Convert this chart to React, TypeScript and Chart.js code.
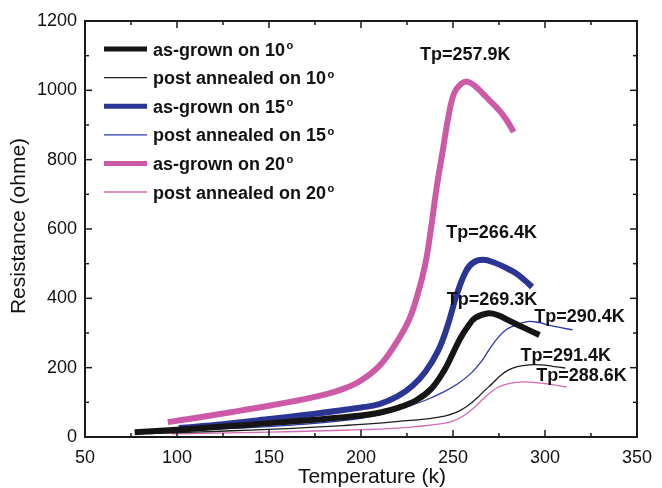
import React, { useEffect, useRef } from "react";
import { Chart, registerables } from "chart.js";

Chart.register(...registerables);

const FONT = '"Liberation Sans", Arial, Helvetica, sans-serif';

// ---- data (Temperature K, Resistance ohm) ----
const T_AG10 = [77, 100, 125, 150, 175, 200, 210, 220, 230, 238, 245, 250, 254, 258, 262, 269.3, 275, 280, 289, 297];
const R_AG10 = [14, 21, 30, 40, 50, 62, 70, 84, 106, 138, 190, 242, 285, 318, 343, 357, 350, 337, 314, 294];

const T_PA10 = [85, 110, 130, 150, 170, 190, 210, 225, 237, 246, 253, 258, 263, 267, 271.5, 276, 280, 285, 291.4, 298, 304, 311];
const R_PA10 = [10, 14, 18, 22, 27, 33, 40, 47, 53, 61, 74, 90, 112, 133, 155, 178, 193, 203, 208, 208, 204, 199];

const T_AG15 = [101, 125, 150, 175, 200, 210, 220, 228, 235, 242, 247, 252, 257, 261, 266.4, 273, 278, 284, 289, 293];
const R_AG15 = [26, 37, 52, 67, 85, 95, 118, 148, 188, 250, 320, 410, 478, 503, 511, 502, 490, 473, 452, 433];

const T_PA15 = [90, 110, 130, 150, 170, 190, 208, 222, 235, 245, 253, 260, 266, 270, 274.7, 279, 284, 290.4, 296, 302, 308, 315];
const R_PA15 = [15, 20, 25, 30, 37, 47, 62, 82, 106, 130, 155, 185, 222, 255, 288, 310, 323, 333, 331, 323, 316, 309];

const T_AG20 = [95, 110, 130, 150, 170, 180, 190, 200, 210, 218, 226, 231, 235, 238, 241, 244.5, 247.5, 250.5, 254, 257.9, 262, 266, 270, 275, 279, 283];
const R_AG20 = [43, 55, 72, 90, 110, 122, 138, 163, 205, 262, 337, 415, 500, 600, 715, 828, 923, 990, 1017, 1025, 1012, 992, 970, 943, 915, 880];

const T_PA20 = [97, 120, 150, 180, 200, 215, 230, 242, 250, 256, 262, 266, 270, 275, 281, 288.6, 295, 303, 312];
const R_PA20 = [9, 11, 14, 18, 21, 24, 30, 37, 46, 62, 87, 108, 127, 145, 155, 159, 157, 152, 144];

const SERIES_LABELS = [
  "as-grown on 10°",
  "post annealed on 10°",
  "as-grown on 15°",
  "post annealed on 15°",
  "as-grown on 20°",
  "post annealed on 20°",
];

const TP_TEXT = ["Tp=257.9K", "Tp=266.4K", "Tp=269.3K", "Tp=290.4K", "Tp=291.4K", "Tp=288.6K"];
const TP_X = [256.7, 271, 271.2, 318.8, 311.3, 319.9];
const TP_Y = [1102, 588, 395, 346, 234, 176];

const X_TITLE = "Temperature (k)";
const Y_TITLE = "Resistance (ohme)";

const X_MIN = 50, X_MAX = 350, X_STEP = 50;
const Y_MIN = 0, Y_MAX = 1200, Y_STEP = 200;

const COLORS = ["#151515", "#1e1e1e", "#2b3594", "#2b37aa", "#cc5aa6", "#d46ab2"];
const WIDTHS = [6, 1.3, 6, 1.3, 6, 1.3];
const LEGEND_WIDTHS = [5, 1.3, 5, 1.3, 5, 1.3];

const toPts = (t: number[], r: number[]) => t.map((v, i) => ({ x: v, y: r[i] }));

const framePlugin = {
  id: "frameTicks",
  afterDatasetsDraw(chart: any) {
    const { ctx, chartArea } = chart;
    const { left, right, top, bottom } = chartArea;
    const xs = chart.scales.x;
    const ys = chart.scales.y;
    ctx.save();
    ctx.strokeStyle = "#1a1a1a";
    ctx.lineWidth = 1.5;
    const seg = (x1: number, y1: number, x2: number, y2: number) => {
      ctx.beginPath();
      ctx.moveTo(x1, y1);
      ctx.lineTo(x2, y2);
      ctx.stroke();
    };
    const xt = xs.ticks.map((t: any) => t.value);
    xt.forEach((v: number, i: number) => {
      const p = xs.getPixelForValue(v);
      seg(p, bottom, p, bottom - 7);
      seg(p, top, p, top + 7);
      if (i < xt.length - 1) {
        const m = xs.getPixelForValue((v + xt[i + 1]) / 2);
        seg(m, bottom, m, bottom - 4);
        seg(m, top, m, top + 4);
      }
    });
    const yt = ys.ticks.map((t: any) => t.value);
    yt.forEach((v: number, i: number) => {
      const p = ys.getPixelForValue(v);
      seg(left, p, left + 7, p);
      seg(right, p, right - 7, p);
      if (i < yt.length - 1) {
        const m = ys.getPixelForValue((v + yt[i + 1]) / 2);
        seg(left, m, left + 4, m);
        seg(right, m, right - 4, m);
      }
    });
    ctx.lineWidth = 2;
    ctx.strokeRect(left, top, right - left, bottom - top);

    // axis titles
    ctx.fillStyle = "#111";
    ctx.font = `21px ${FONT}`;
    ctx.textAlign = "center";
    ctx.textBaseline = "middle";
    ctx.fillText(X_TITLE, (left + right) / 2 + 11, bottom + 40);
    ctx.save();
    ctx.translate(19, (top + bottom) / 2 - 3);
    ctx.rotate(-Math.PI / 2);
    ctx.fillText(Y_TITLE, 0, 0);
    ctx.restore();

    // Tp annotations
    ctx.font = `bold 18px ${FONT}`;
    TP_TEXT.forEach((txt, i) => {
      ctx.fillText(txt, xs.getPixelForValue(TP_X[i]), ys.getPixelForValue(TP_Y[i]));
    });

    // legend
    ctx.textAlign = "left";
    ctx.textBaseline = "alphabetic";
    chart.data.datasets.forEach((ds: any, i: number) => {
      const yy = top + 28 + i * 28.6;
      ctx.strokeStyle = ds.borderColor;
      ctx.lineWidth = LEGEND_WIDTHS[i];
      seg(left + 19, yy, left + 62, yy);
      const label: string = ds.label;
      const main = label.replace("°", "");
      ctx.fillStyle = "#111";
      ctx.font = `bold 18px ${FONT}`;
      ctx.fillText(main, left + 68, yy + 6.5);
      const w = ctx.measureText(main).width;
      if (label.includes("°")) {
        ctx.font = `bold 11px ${FONT}`;
        ctx.fillText("o", left + 68 + w + 1.5, yy);
      }
    });
    ctx.restore();
  },
};

export default function App() {
  const ref = useRef<HTMLCanvasElement | null>(null);
  useEffect(() => {
    if (!ref.current) return;
    const series = [
      toPts(T_AG10, R_AG10),
      toPts(T_PA10, R_PA10),
      toPts(T_AG15, R_AG15),
      toPts(T_PA15, R_PA15),
      toPts(T_AG20, R_AG20),
      toPts(T_PA20, R_PA20),
    ];
    const chart = new Chart(ref.current, {
      type: "line",
      data: {
        datasets: series.map((d, i) => ({
          label: SERIES_LABELS[i],
          data: d,
          borderColor: COLORS[i],
          backgroundColor: COLORS[i],
          borderWidth: WIDTHS[i],
          pointRadius: 0,
          fill: false,
          tension: 0.4,
          borderJoinStyle: "round" as const,
        })),
      },
      options: {
        responsive: false,
        animation: false,
        layout: { padding: { left: 0, right: 19, top: 21, bottom: 0 } },
        plugins: { legend: { display: false }, tooltip: { enabled: false } },
        scales: {
          x: {
            type: "linear",
            min: X_MIN,
            max: X_MAX,
            grid: { display: false, drawTicks: false },
            border: { display: false },
            ticks: {
              stepSize: X_STEP,
              padding: 10,
              color: "#111",
              font: { family: FONT, size: 18 },
              callback: (v: any) => String(v),
            },
            afterFit: (s: any) => {
              s.height = 51;
            },
          },
          y: {
            type: "linear",
            min: Y_MIN,
            max: Y_MAX,
            grid: { display: false, drawTicks: false },
            border: { display: false },
            ticks: {
              stepSize: Y_STEP,
              padding: 8,
              color: "#111",
              font: { family: FONT, size: 18 },
              callback: (v: any) => String(v),
            },
            afterFit: (s: any) => {
              s.width = 85;
            },
          },
        },
      },
      plugins: [framePlugin],
    });
    return () => chart.destroy();
  }, []);
  return (
    <div style={{ position: "fixed", left: 0, top: 0, width: 662, height: 488, background: "#fff" }}>
      <canvas ref={ref} width={662} height={488} style={{ display: "block" }} />
    </div>
  );
}
